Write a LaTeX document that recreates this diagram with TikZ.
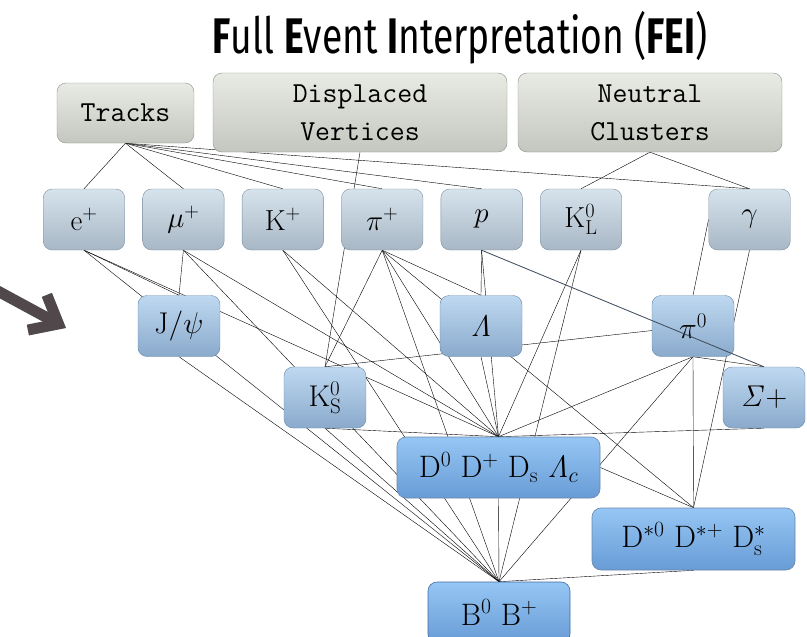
\RequirePackage{fix-cm}
\documentclass[tikz,border=0pt]{standalone}
\usepackage[no-math]{fontspec}
\newfontfamily\titlefont[FakeStretch=0.745]{Fira Sans}
\usetikzlibrary{arrows.meta,positioning,backgrounds}
\definecolor{edgeclr}{RGB}{64,78,94}
\definecolor{rawtop}{RGB}{232,234,228}
\definecolor{rawbot}{RGB}{196,199,191}
\definecolor{rawline}{RGB}{140,143,137}
\definecolor{fsptop}{RGB}{214,227,237}
\definecolor{fspbot}{RGB}{168,183,197}
\definecolor{fspline}{RGB}{122,142,160}
\definecolor{comptop}{RGB}{190,216,240}
\definecolor{compbot}{RGB}{138,170,204}
\definecolor{compline}{RGB}{104,136,170}
\definecolor{btop}{RGB}{150,198,244}
\definecolor{bbot}{RGB}{104,156,214}
\definecolor{bline}{RGB}{62,108,164}
\definecolor{arrowclr}{RGB}{80,72,74}
\tikzset{
  raw/.style  ={draw=rawline, rounded corners=9pt, top color=rawtop, bottom color=rawbot, align=center, font=\fontsize{29}{38}\ttfamily, inner sep=0pt},
  fsp/.style  ={draw=fspline, rounded corners=9pt, top color=fsptop, bottom color=fspbot, minimum width=81.5pt, minimum height=61pt, font=\fontsize{29}{34}\selectfont, inner sep=0pt},
  comp/.style ={draw=compline, rounded corners=9pt, top color=comptop, bottom color=compbot, minimum width=82pt, minimum height=61pt, font=\fontsize{30}{34}\selectfont, inner sep=0pt},
  bnode/.style={draw=bline, semithick, rounded corners=9pt, top color=btop, bottom color=bbot, minimum height=61pt, font=\fontsize{31}{34}\selectfont, inner sep=0pt},
  lnk/.style  ={draw=edgeclr, line width=0.85pt},
  hint/.style ={draw=arrowclr, line width=11pt, -{Straight Barb[sharp, length=24pt, width=40pt]}},
}

\begin{document}
\begin{tikzpicture}[x=1pt, y=-1pt]
  \useasboundingbox (0,0) rectangle (807,637);

  % ---- title ----
  \node[font=\titlefont\fontsize{50}{54}\selectfont, anchor=base] (title) at (460,53)
    {\textbf{F}ull \textbf{E}vent \textbf{I}nterpretation (\textbf{FEI})};

  % ---- detector input ----
  \node[raw, minimum width=137pt, minimum height=60pt] (tracks) at (125.5,113) {Tracks};
  \node[raw, minimum width=294pt, minimum height=79pt] (displ) at (360,112.5) {Displaced\\Vertices};
  \node[raw, minimum width=264pt, minimum height=79pt] (neutr) at (650,112.5) {Neutral\\Clusters};

  % ---- final state particles ----
  \node[fsp] (ep) at (84,219.5) {$\mathrm{e}^+$};
  \node[fsp, right=17.5pt of ep] (mup) {$\mu^+$};
  \node[fsp, right=17.5pt of mup] (Kp) {$\mathrm{K}^+$};
  \node[fsp, right=17.5pt of Kp] (pip) {$\pi^+$};
  \node[fsp, right=17.5pt of pip] (prot) {$p$};
  \node[fsp, right=17.5pt of prot] (KL) {$\mathrm{K}^0_\mathrm{L}$};
  \node[fsp] (gam) at (749.5,219.5) {$\gamma$};

  % ---- intermediate particles ----
  \node[comp] (jpsi) at (179,326) {$\mathrm{J}/\psi$};
  \node[comp] (lam) at (481,326) {$\mathit{\Lambda}$};
  \node[comp] (pi0) at (693,326) {$\pi^0$};
  \node[comp] (KS) at (325,397.5) {$\mathrm{K}^0_\mathrm{S}$};
  \node[comp] (sig) at (764,397.5) {$\mathit{\Sigma}+$};
  \node[bnode, draw=compline, minimum width=203pt] (D) at (498.5,467.5)
    {$\mathrm{D}^0\ \mathrm{D}^+\ \mathrm{D_s}\ \mathit{\Lambda}_c$};
  \node[bnode, draw=compline, minimum width=203pt, minimum height=62pt] (Dst) at (693.5,539)
    {$\mathrm{D}^{*0}\ \mathrm{D}^{*+}\ \mathrm{D}^*_\mathrm{s}$};
  \node[bnode, minimum width=142pt] (B) at (499,612.5) {$\mathrm{B}^0\ \mathrm{B}^+$};

  % ---- hierarchy ----
  \begin{scope}[on background layer, lnk]
    \foreach \t in {ep,mup,Kp,pip,prot,gam} \draw (tracks.south) -- (\t.north);
    \draw (displ.south) -- (KS.north);
    \draw (neutr.south) -- (KL.north);
    \draw (neutr.south) -- (gam.north);
    \foreach \l in {ep,mup} {
      \draw (\l.south) -- (jpsi.north);
      \draw (\l.south) -- (D.north);
      \draw (\l.south) -- (B.north);
    }
    \draw (Kp.south) -- (D.north);
    \draw (Kp.south) -- (B.north);
    \foreach \t in {KS,lam,D,Dst,B} \draw (pip.south) -- (\t.north);
    \draw (prot.south) -- (lam.north);
    \draw (prot.south) -- (D.north);
    \draw (KL.south) -- (D.north);
    \draw (KL.south) -- (B.north);
    \draw (gam.west) -- (pi0.north);
    \draw (gam.south) -- (Dst.north);
    \draw (jpsi.south) -- (B.north);
    \draw (lam.south) -- (D.north);
    \draw (pi0) -- (KS.north);
    \foreach \t in {sig,D,Dst,B} \draw (pi0.south) -- (\t.north);
    \draw (KS.south) -- (D.north);
    \draw (KS.south) -- (B.north);
    \draw (sig.south) -- (D.north);
    \draw (D.south) -- (B.north);
    \draw (D.east) -- (Dst.north);
    \draw (Dst.south) -- (B.north);
  \end{scope}
  \draw[lnk] (prot.south) -- (sig.north);

  % ---- pointer ----
  \coordinate (hfrom) at (-6,289);
  \coordinate (hto) at (66,328);
  \draw[hint] (hfrom) -- (hto);
\end{tikzpicture}
\end{document}
